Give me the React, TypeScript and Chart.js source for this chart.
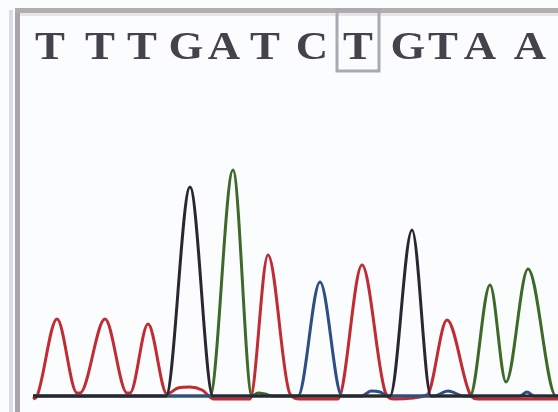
import React, { useEffect, useRef } from "react";
import { Chart, registerables } from "chart.js";

Chart.register(...registerables);

// Base calls shown above the trace
const baseCalls = ["T", "T", "T", "G", "A", "T", "C", "T", "G", "T", "A", "A"];
const baseCallPos = [50, 100, 142, 186, 224, 265, 312, 358, 408, 443, 480, 530];
const highlightedCall = 7;

// T trace (red)
const tScan = [33, 37, 57, 77, 80, 105, 127, 130, 148, 167, 178, 190, 202, 214, 250, 268, 290, 300, 338, 362, 386, 394, 427, 447, 470, 478, 558];
const tSignal = [-3, 0, 77, 3, 3, 77, 3, 3, 72, 2, 8, 9, 6, -3, -3, 141, 2, -3, -3, 131, 2, -3, 1, 76, 2, -3, -3];

// G trace (black)
const gScan = [33, 166, 190, 213, 390, 412, 431, 558];
const gSignal = [0, 0, 209, 0, 0, 166, 0, 0];

// C trace (blue)
const cScan = [33, 298, 320, 342, 362, 371, 380, 388, 434, 448, 464, 520, 527, 534, 558];
const cSignal = [0, 0, 114, 0, 0, 5, 4, 0, 0, 5, 0, 0, 4, 0, 0];

// A trace (green)
const aScan = [33, 210, 233, 252, 258, 265, 272, 470, 490, 506, 528, 556, 558];
const aSignal = [0, 0, 226, 0, 3, 2, 0, 0, 111, 14, 127, 0, 0];

const toPoints = (xs: number[], ys: number[]) => xs.map((x, i) => ({ x, y: ys[i] }));

const framePlugin = {
  id: "chromatogramFrame",
  beforeDraw(chart: any) {
    const { ctx, width, height } = chart;
    ctx.save();
    ctx.fillStyle = "#fafcfd";
    ctx.fillRect(0, 0, width, height);
    ctx.restore();
  },
  afterDraw(chart: any) {
    const { ctx, width, height } = chart;
    const xs = chart.scales.x;
    ctx.save();
    // frame
    ctx.fillStyle = "#d6dfe9";
    ctx.fillRect(9, 10, 4, height - 10);
    ctx.fillStyle = "#aaa5a9";
    ctx.fillRect(15, 8, 5, height - 8);
    ctx.fillStyle = "#b1adb1";
    ctx.fillRect(15, 8, width - 15, 5);
    ctx.fillStyle = "#e7e4e4";
    ctx.fillRect(20, 13, width - 20, 3);
    // letters
    ctx.fillStyle = "#45424c";
    ctx.font = "bold 40px 'Liberation Serif'";
    ctx.textAlign = "center";
    ctx.textBaseline = "alphabetic";
    baseCalls.forEach((b, i) => {
      const x = xs.getPixelForValue(baseCallPos[i]);
      ctx.save();
      ctx.translate(x, 59);
      ctx.scale(1.12, 1);
      ctx.fillText(b, 0, 0);
      ctx.restore();
    });
    // highlight box
    const hx = xs.getPixelForValue(baseCallPos[highlightedCall]);
    ctx.strokeStyle = "#a9a9b1";
    ctx.lineWidth = 3;
    ctx.strokeRect(hx - 21, 10, 42, 61);
    ctx.restore();
  },
};

export default function App() {
  const ref = useRef<HTMLCanvasElement | null>(null);
  useEffect(() => {
    if (!ref.current) return;
    const common = {
      pointRadius: 0,
      borderWidth: 3,
      cubicInterpolationMode: "monotone" as const,
      fill: false,
    };
    const chart = new Chart(ref.current, {
      type: "line",
      data: {
        datasets: [
          { ...common, label: "G", data: toPoints(gScan, gSignal), borderColor: "#2b2731" },
          { ...common, label: "C", data: toPoints(cScan, cSignal), borderColor: "#2f4d86" },
          { ...common, label: "A", data: toPoints(aScan, aSignal), borderColor: "#3e6a29" },
          { ...common, label: "T", data: toPoints(tScan, tSignal), borderColor: "#c12b33" },
        ],
      },
      options: {
        animation: false,
        responsive: false,
        devicePixelRatio: 1,
        layout: { padding: 0 },
        scales: {
          x: { type: "linear", min: 0, max: 558, display: false },
          y: { type: "linear", min: -16, max: 396, display: false },
        },
        plugins: { legend: { display: false }, tooltip: { enabled: false } },
      },
      plugins: [framePlugin],
    });
    return () => chart.destroy();
  }, []);
  return (
    <div style={{ position: "absolute", left: 0, top: 0, width: 558, height: 412 }}>
      <canvas ref={ref} width={558} height={412} style={{ display: "block" }} />
    </div>
  );
}
